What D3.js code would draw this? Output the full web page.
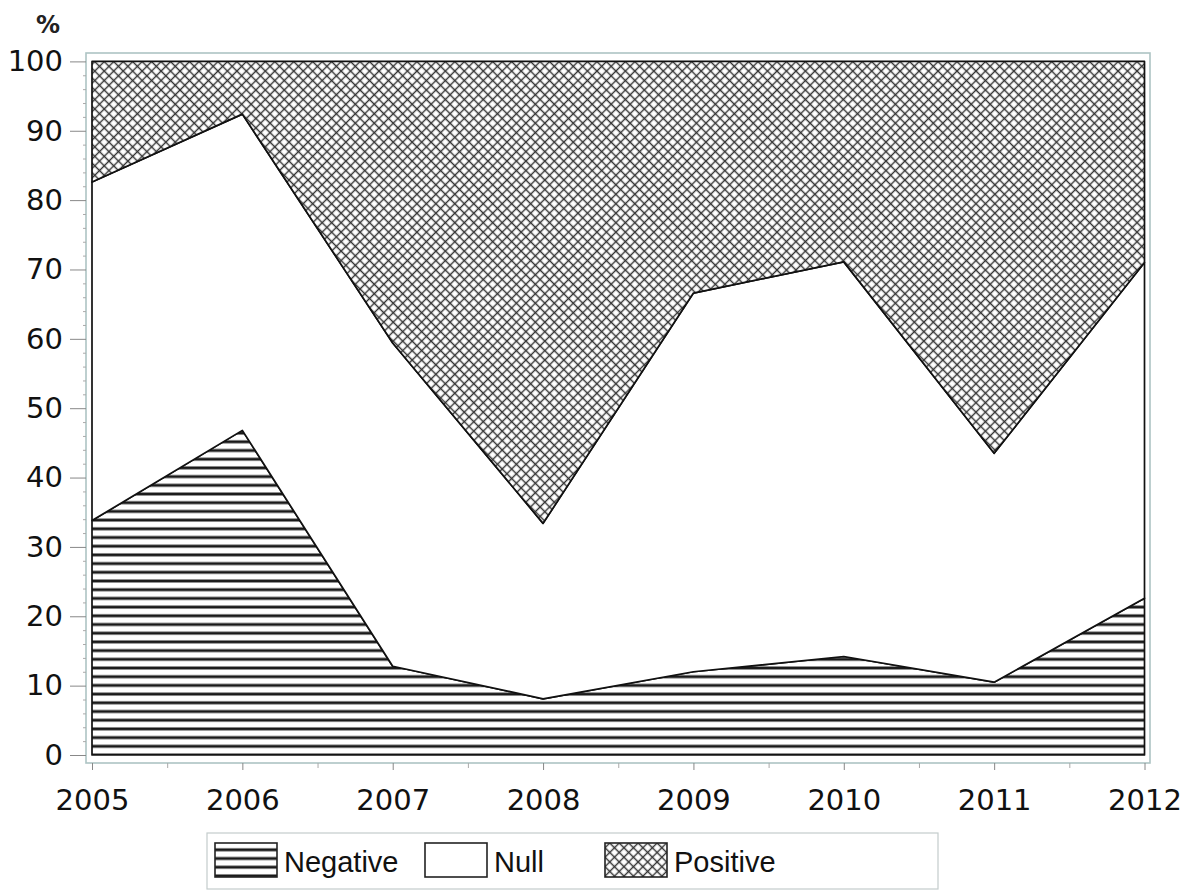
<!DOCTYPE html>
<html>
<head>
<meta charset="utf-8">
<script src="https://d3js.org/d3.v7.min.js"></script>
<style>
  body { margin: 0; background: #fff; }
  svg { display: block; }
</style>
</head>
<body>
<script>
// values (% of cases per year)
var years    = [2005, 2006, 2007, 2008, 2009, 2010, 2011, 2012];
var negative = [33.8, 46.8, 12.8, 8.1, 12.0, 14.2, 10.5, 22.6];
var nullPct  = [48.8, 45.6, 46.6, 25.3, 54.6, 56.9, 33.0, 48.4];
var positive = [17.4, 7.6, 40.6, 66.6, 33.4, 28.9, 56.5, 29.0];
var yTicks   = [0, 10, 20, 30, 40, 50, 60, 70, 80, 90, 100];
var keys     = ["Negative", "Null", "Positive"];

var width = 1190, height = 891;

var svg = d3.select("body").append("svg")
    .attr("width", width)
    .attr("height", height);

// hatch patterns
var defs = svg.append("defs");

var hp = defs.append("pattern")
    .attr("id", "hlines")
    .attr("patternUnits", "userSpaceOnUse")
    .attr("width", 20).attr("height", 8.7)
    .attr("y", 755);
hp.append("rect").attr("width", 20).attr("height", 8.7).attr("fill", "#fff");
hp.append("path").attr("d", "M0,0.7H20M0,8H20")
    .attr("stroke", "#1a1a1a").attr("stroke-width", 1.4);

var cp = defs.append("pattern")
    .attr("id", "xhatch")
    .attr("patternUnits", "userSpaceOnUse")
    .attr("width", 6.7).attr("height", 6.7)
    .attr("patternTransform", "rotate(45)");
cp.append("rect").attr("width", 6.7).attr("height", 6.7).attr("fill", "#fff");
cp.append("path").attr("d", "M3.35,0V6.7M0,3.35H6.7")
    .attr("stroke", "#333").attr("stroke-width", 1.4);

var fills = { Negative: "url(#hlines)", Null: "#fff", Positive: "url(#xhatch)" };

// scales
var x = d3.scaleLinear().domain([2005, 2012]).range([92, 1144.5]);
var y = d3.scaleLinear().domain([0, 100]).range([755, 61.4]);

// table for the stack
var rows = years.map(function (yr, i) {
    return { year: yr, Negative: negative[i], Null: nullPct[i], Positive: positive[i] };
});
var series = d3.stack().keys(keys)(rows);

var area = d3.area()
    .x(function (d) { return x(d.data.year); })
    .y0(function (d) { return y(d[0]); })
    .y1(function (d) { return y(Math.min(d[1], 100)); });

svg.append("g").selectAll("path")
    .data(series)
    .enter()
    .append("path")
    .attr("d", area)
    .attr("fill", function (d) { return fills[d.key]; })
    .attr("stroke", "#111")
    .attr("stroke-width", 1.7)
    .attr("stroke-linejoin", "round");

// outer frame
svg.append("rect")
    .attr("x", 86).attr("y", 53)
    .attr("width", 1064).attr("height", 710)
    .attr("fill", "none")
    .attr("stroke", "#adc4c4")
    .attr("stroke-width", 1.6);

// y axis
var yAxis = svg.append("g")
    .attr("transform", "translate(86,0)")
    .call(d3.axisLeft(y).tickValues(yTicks).tickSize(16).tickPadding(7));
yAxis.select(".domain").remove();
yAxis.selectAll("line").attr("stroke", "#888");
yAxis.selectAll("text")
    .attr("font-family", "DejaVu Sans")
    .attr("font-size", 29)
    .attr("fill", "#111");

svg.append("g")
    .attr("transform", "translate(86,0)")
    .call(d3.axisLeft(y).tickValues(d3.range(2, 100, 2).filter(function (v) { return v % 10; }))
        .tickSize(3).tickFormat(""))
    .call(function (g) { g.select(".domain").remove(); })
    .selectAll("line").attr("stroke", "#aaa");

// x axis
var xAxis = svg.append("g")
    .attr("transform", "translate(0,763)")
    .call(d3.axisBottom(x).tickValues(years).tickSize(7).tickPadding(19)
        .tickFormat(d3.format("d")));
xAxis.select(".domain").remove();
xAxis.selectAll("line").attr("stroke", "#888");
xAxis.selectAll("text")
    .attr("font-family", "DejaVu Sans")
    .attr("font-size", 29)
    .attr("fill", "#111");

svg.append("g")
    .attr("transform", "translate(0,763)")
    .call(d3.axisBottom(x).tickValues(years.slice(1).map(function (v) { return v - 0.5; }))
        .tickSize(5).tickFormat(""))
    .call(function (g) { g.select(".domain").remove(); })
    .selectAll("line").attr("stroke", "#aaa");

// % label
svg.append("text")
    .attr("x", 48).attr("y", 33)
    .attr("text-anchor", "middle")
    .attr("font-family", "DejaVu Sans")
    .attr("font-weight", "bold")
    .attr("font-size", 24)
    .attr("fill", "#222")
    .text("%");

// legend
var legend = svg.append("g");
legend.append("rect")
    .attr("x", 207).attr("y", 833)
    .attr("width", 731).attr("height", 56)
    .attr("fill", "#fff")
    .attr("stroke", "#c4cccc")
    .attr("stroke-width", 1.2);

var legX = [215, 425, 605];
var item = legend.selectAll("g.item")
    .data(keys)
    .enter()
    .append("g")
    .attr("class", "item")
    .attr("transform", function (d, i) { return "translate(" + legX[i] + ",843)"; });

item.append("rect")
    .attr("width", 62).attr("height", 34)
    .attr("fill", function (d) { return fills[d]; })
    .attr("stroke", "#222")
    .attr("stroke-width", 1.6);

item.append("text")
    .attr("x", 69).attr("y", 29)
    .attr("font-family", "Liberation Sans")
    .attr("font-size", 29)
    .attr("fill", "#111")
    .text(function (d) { return d; });
</script>
</body>
</html>
